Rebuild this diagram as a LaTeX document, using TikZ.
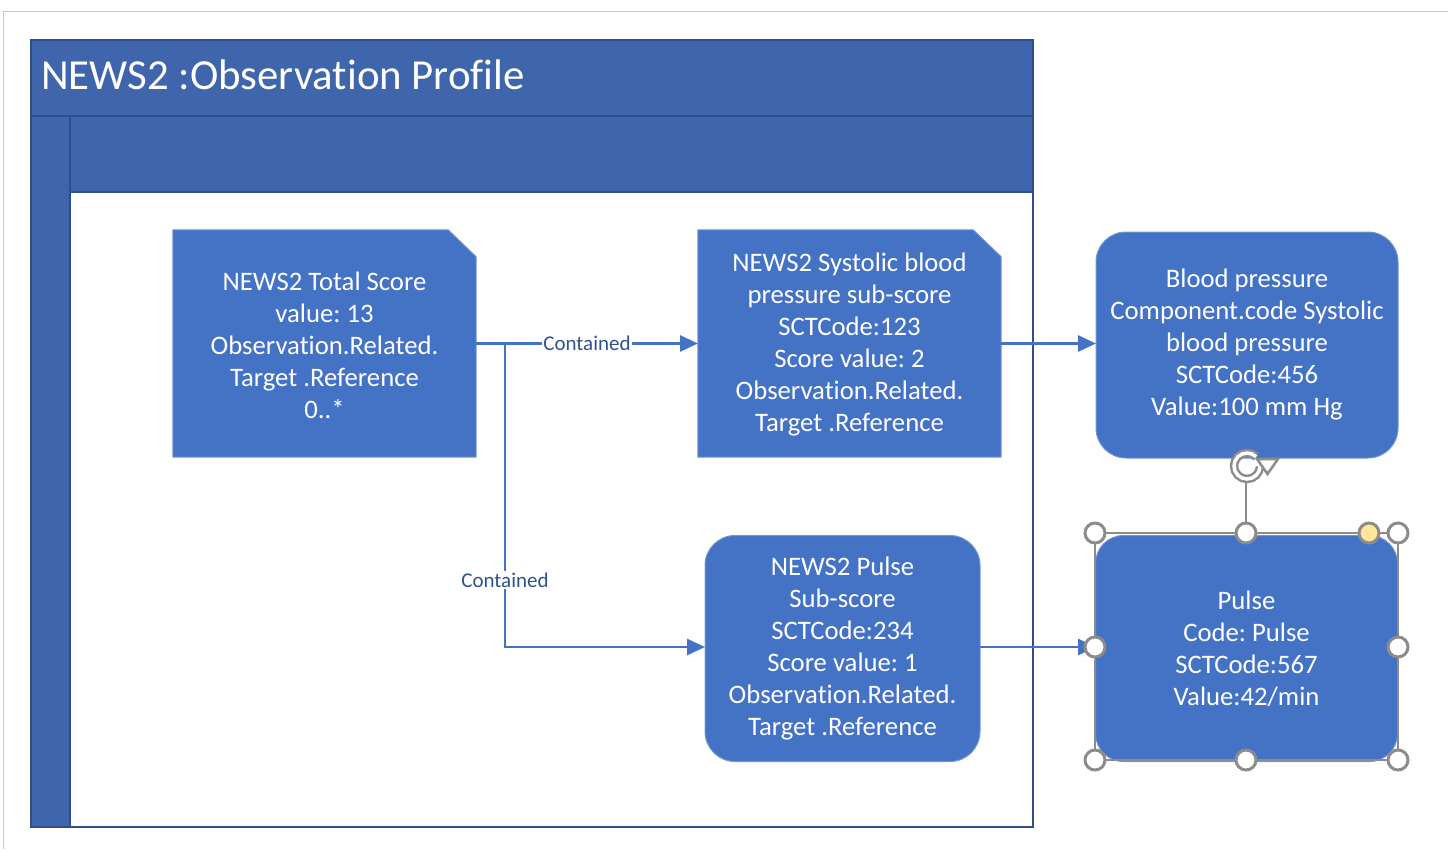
\documentclass[tikz,border=0pt]{standalone}
\usepackage{fontspec}
\setmainfont{Carlito}[Ligatures=NoCommon]
\frenchspacing
\usetikzlibrary{arrows.meta,backgrounds}
\definecolor{poolfill}{RGB}{63,101,173}
\definecolor{poolline}{RGB}{47,78,138}
\definecolor{boxfill}{RGB}{68,114,196}
\definecolor{connblue}{RGB}{68,114,196}
\definecolor{lblblue}{RGB}{47,82,143}
\definecolor{hgray}{RGB}{140,140,140}
\definecolor{frame}{RGB}{200,200,200}
\definecolor{hyellow}{RGB}{255,230,153}
\tikzset{
  boxtext/.style={text=white, align=center, font=\fontsize{26.7}{32}\selectfont, inner sep=0pt},
  snipbox/.style={boxtext, rectangle},
  snipfill/.style={fill=boxfill, draw=boxfill!75!white, line width=1pt},
  roundbox/.style={boxtext, rectangle, rounded corners=30pt, fill=boxfill, draw=boxfill!75!white, line width=1pt},
  conn/.style={draw=connblue, line width=2.8pt, -{Triangle[length=18pt,width=16pt]}},
  lbl/.style={text=lblblue, fill=white, inner sep=1.5pt, font=\fontsize{21}{24}\selectfont},
  handle/.style={draw=hgray, fill=white, line width=3pt},
}
\begin{document}
\begin{tikzpicture}[x=1pt,y=-1pt]
\useasboundingbox (0,0) rectangle (1448,849);
% outer frame of screenshot
\draw[frame, line width=1pt] (3,849) -- (3,11) -- (1448,11);
% pool
\fill[poolfill] (31,40) rectangle (1033,192);
\fill[poolfill] (31,116) rectangle (70,827);
\draw[poolline, line width=2pt] (31,40) rectangle (1033,827);
\draw[poolline, line width=1.5pt] (31,116) -- (1033,116);
\draw[poolline, line width=1.5pt] (70,116) -- (70,827);
\draw[poolline, line width=1.5pt] (70,192) -- (1033,192);
\node[text=white, font=\fontsize{42.8}{48}\selectfont, anchor=base west, inner sep=0pt] (title) at (41,89) {NEWS2 :Observation Profile};
% boxes
\node[snipbox, minimum width=303pt, minimum height=227pt] (b1) at (324.5,345)
  {NEWS2 Total Score\\value: 13\\Observation.Related.\\Target .Reference\\0..*};
\node[snipbox, minimum width=303pt, minimum height=227pt] (b2) at (849.5,345)
  {NEWS2 Systolic blood\\pressure sub-score\\SCTCode:123\\Score value: 2\\Observation.Related.\\Target .Reference};
\begin{scope}[on background layer]
\foreach \b in {b1,b2}
  \path[snipfill] ([yshift=1.5pt]\b.south west) -- ([yshift=1.5pt]\b.north west) -- ([xshift=-28pt,yshift=1.5pt]\b.north east)
     -- ([yshift=-25.5pt]\b.north east) -- ([yshift=1.5pt]\b.south east) -- cycle;
\end{scope}
\node[roundbox, minimum width=302pt, minimum height=226pt] (b3) at (1247,345)
  {Blood pressure\\Component.code Systolic\\blood pressure\\SCTCode:456\\Value:100 mm Hg};
\node[roundbox, minimum width=275pt, minimum height=226pt] (b4) at (842.5,648.5)
  {NEWS2 Pulse\\Sub-score\\SCTCode:234\\Score value: 1\\Observation.Related.\\Target .Reference};
\node[roundbox, rounded corners=28pt, minimum width=302pt, minimum height=226pt] (b5) at (1246.5,648.5)
  {Pulse\\Code: Pulse\\SCTCode:567\\Value:42/min};
% connectors
\coordinate (j) at (505,343.5);
\coordinate (b1e) at (476,343.5);
\coordinate (b2w) at (698,343.5);
\coordinate (b2e) at (1001,343.5);
\coordinate (b3w) at (1096,343.5);
\coordinate (b4w) at (705,647);
\coordinate (b4e) at (980,647);
\coordinate (b5w) at (1096,647);
\draw[conn] (b1e) -- node[lbl] {Contained} (b2w);
\draw[conn] (j) |- node[lbl, pos=0.39] {Contained} (b4w);
\draw[conn] (b2e) -- (b3w);
\draw[conn] (b4e) -- (b5w);
% selection frame and handles
\draw[hgray, line width=2pt] (1095,533) rectangle (1398,760);
\draw[hgray, line width=2pt] (1246,478) -- (1246,533);
\draw[draw=hgray, double=white, double distance=3.5pt, line width=2.5pt]
  (1256.2,456.8) arc[start angle=-45, end angle=-355, radius=13];
\draw[draw=hgray, fill=white, line width=2.5pt, line join=miter] (1257,459) -- (1278,459) -- (1267.5,474) -- cycle;
\foreach \p in {(1095,533),(1246,533),(1398,533),(1095,647),(1398,647),(1095,760),(1246,760),(1398,760)}
  \draw[handle] \p circle[radius=10];
\draw[handle, fill=hyellow] (1369,533) circle[radius=10];
\end{tikzpicture}
\end{document}
